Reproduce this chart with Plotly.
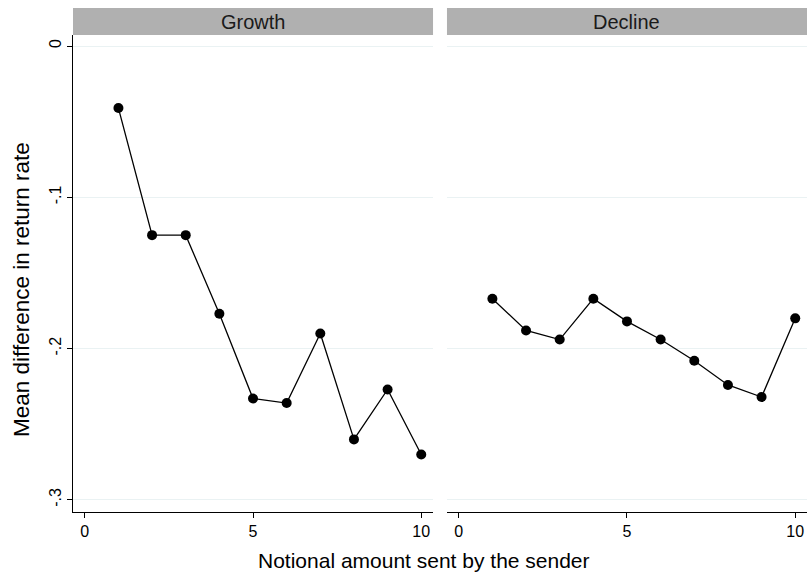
import plotly.graph_objects as go

amounts = [1, 2, 3, 4, 5, 6, 7, 8, 9, 10]
growth = [-0.041, -0.125, -0.125, -0.177, -0.233, -0.236, -0.190, -0.260, -0.227, -0.270]
decline = [-0.167, -0.188, -0.194, -0.167, -0.182, -0.194, -0.208, -0.224, -0.232, -0.180]
panel_titles = ["Growth", "Decline"]
y_ticks = [0, -0.1, -0.2, -0.3]
y_tick_labels = ["0", "-.1", "-.2", "-.3"]
x_ticks = [0, 5, 10]

FONT = "Liberation Sans, Arial, Helvetica, sans-serif"
GRID = "#eaf2f3"
PH = 477  # plot height in px
PW = 734  # plot width in px

fig = go.Figure()
for i, ys in enumerate([growth, decline]):
    fig.add_trace(go.Scatter(
        x=amounts, y=ys, mode="lines+markers",
        line=dict(color="black", width=1.3),
        marker=dict(color="black", size=10),
        xaxis="x" if i == 0 else "x2",
        yaxis="y" if i == 0 else "y2",
        showlegend=False,
    ))

xcommon = dict(range=[-0.35, 10.35], tickvals=x_ticks, ticks="outside", ticklen=5,
               tickcolor="black", showline=True, linecolor="black", linewidth=1,
               showgrid=False, zeroline=False, tickfont=dict(size=16, color="black", family=FONT))
ycommon = dict(range=[-0.308, 0.0073], tickvals=y_ticks, showgrid=True, gridcolor=GRID,
               gridwidth=1, zeroline=False)

fig.update_layout(
    width=807, height=576,
    margin=dict(l=73, r=0, t=35, b=64),
    paper_bgcolor="white", plot_bgcolor="white",
    font=dict(family=FONT, color="black"),
    xaxis=dict(domain=[0, 0.4905], anchor="y", **xcommon),
    xaxis2=dict(domain=[0.5095, 1], anchor="y2", **xcommon),
    yaxis=dict(domain=[0, 1], anchor="x", ticktext=y_tick_labels, ticks="outside", ticklen=5,
               tickcolor="black", showline=True, linecolor="black", linewidth=1,
               tickangle=-90, tickfont=dict(size=16, color="black", family=FONT),
               **ycommon),
    yaxis2=dict(domain=[0, 1], anchor="x2", showticklabels=False, ticks="", showline=False, **ycommon),
)

strip_top = 1 + 27 / PH
for dom, title in zip([(0, 0.4905), (0.5095, 1)], panel_titles):
    fig.add_shape(type="rect", xref="paper", yref="paper", x0=dom[0], x1=dom[1], y0=1, y1=strip_top,
                  fillcolor="#b0b0b0", line=dict(width=0), layer="below")
    fig.add_annotation(xref="paper", yref="paper", x=(dom[0] + dom[1]) / 2, y=(1 + strip_top) / 2,
                       text=title, showarrow=False, font=dict(size=20, color="#1a1a1a", family=FONT),
                       xanchor="center", yanchor="middle")

fig.add_annotation(xref="paper", yref="paper", x=(424 - 73) / PW, y=-(560 - 512) / PH,
                   text="Notional amount sent by the sender",
                   showarrow=False, font=dict(size=21, color="black", family=FONT),
                   xanchor="center", yanchor="middle")
fig.add_annotation(xref="paper", yref="paper", x=(21 - 73) / PW, y=(512 - 290) / PH,
                   text="Mean difference in return rate", textangle=-90,
                   showarrow=False, font=dict(size=22.5, color="black", family=FONT),
                   xanchor="center", yanchor="middle")

fig.write_html("out.html", config={"displayModeBar": False},
               post_script="document.body.style.margin='0px';document.body.style.overflow='hidden';")
